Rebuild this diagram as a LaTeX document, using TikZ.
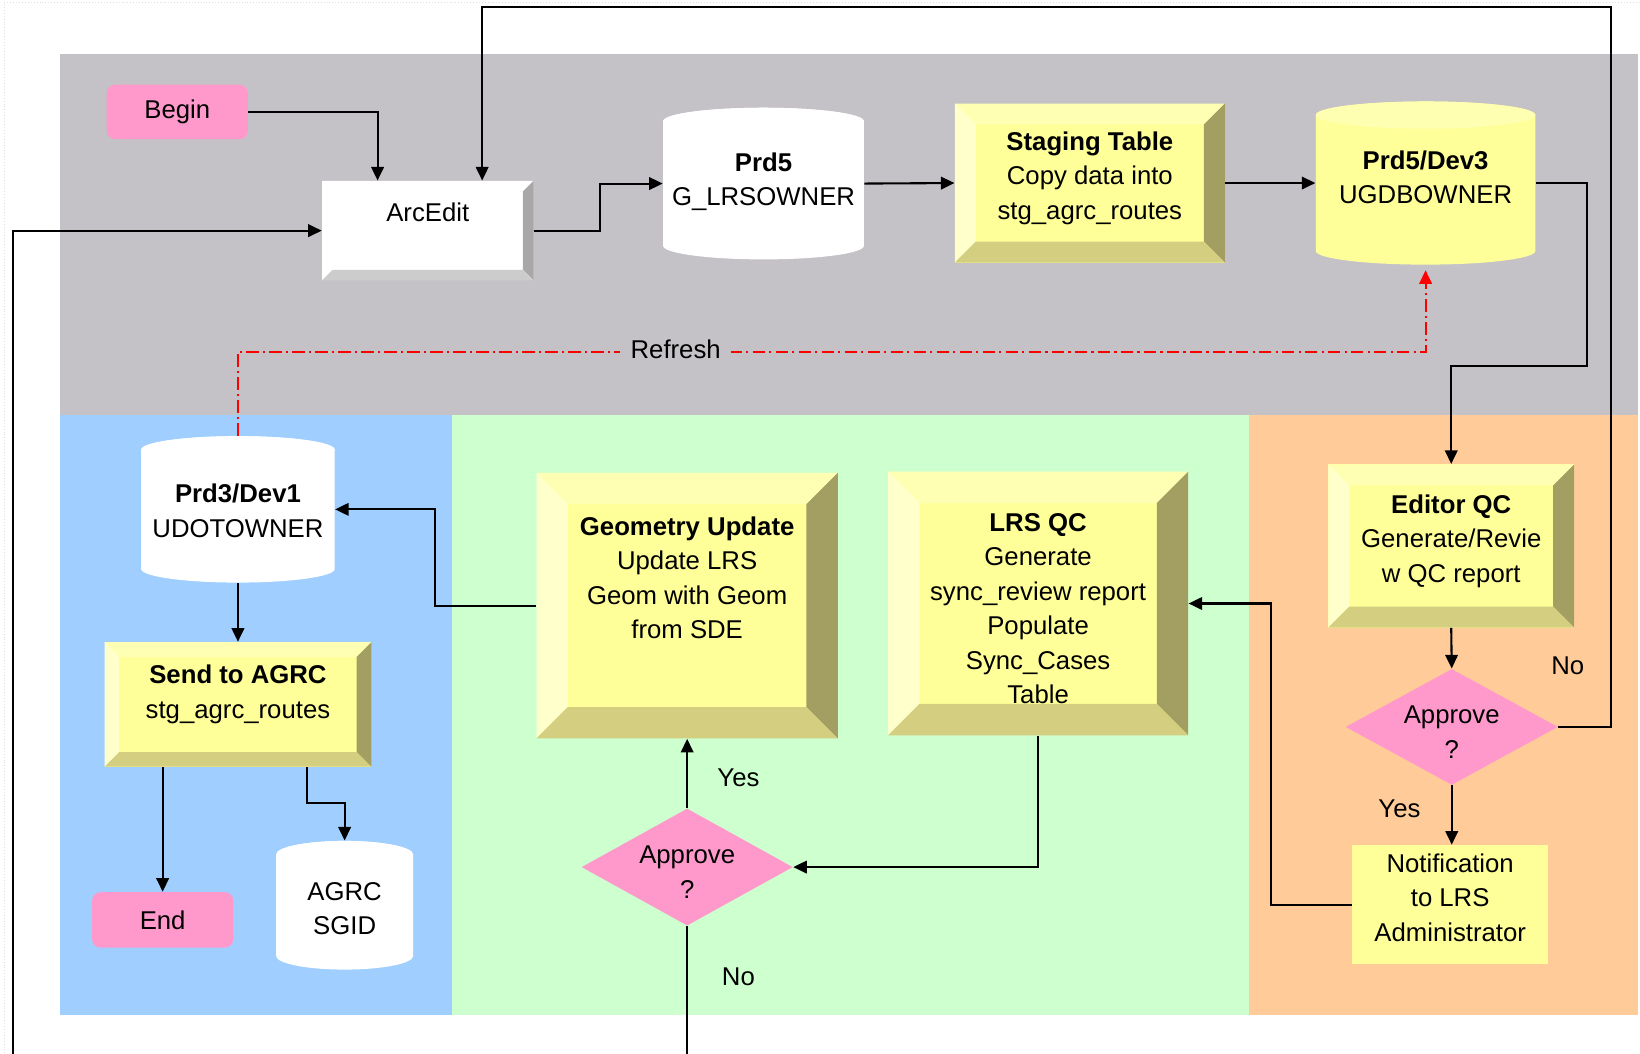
\documentclass[tikz,border=0pt]{standalone}
\usepackage{fontspec}
\setmainfont{Liberation Sans}
\usetikzlibrary{calc,arrows.meta,shapes.geometric}

\definecolor{bandgray}{RGB}{196,194,198}
\definecolor{laneblue}{RGB}{160,207,255}
\definecolor{lanegreen}{RGB}{206,255,206}
\definecolor{laneorange}{RGB}{255,204,153}
\definecolor{termpink}{RGB}{255,153,204}
\definecolor{yface}{RGB}{255,255,153}
\definecolor{ytop}{RGB}{255,255,180}
\definecolor{yleft}{RGB}{255,255,204}
\definecolor{yright}{RGB}{163,158,98}
\definecolor{ybottom}{RGB}{211,206,128}
\definecolor{dbtop}{RGB}{255,255,178}
\definecolor{gright}{RGB}{168,168,168}
\definecolor{gbottom}{RGB}{204,204,204}
\definecolor{refreshred}{RGB}{255,0,0}

\newcommand\bevelfaces[5]{%
	\coordinate (bnw) at (path picture bounding box.north west);
	\coordinate (bne) at (path picture bounding box.north east);
	\coordinate (bsw) at (path picture bounding box.south west);
	\coordinate (bse) at (path picture bounding box.south east);
	\fill[#2] (bnw) -- (bne) -- ($(bne)+(-#1,-#1)$) -- ($(bnw)+(#1,-#1)$) -- cycle;
	\fill[#3] (bnw) -- ($(bnw)+(#1,-#1)$) -- ($(bsw)+(#1,#1)$) -- (bsw) -- cycle;
	\fill[#4] (bne) -- (bse) -- ($(bse)+(-#1,#1)$) -- ($(bne)+(-#1,-#1)$) -- cycle;
	\fill[#5] (bsw) -- (bse) -- ($(bse)+(-#1,#1)$) -- ($(bsw)+(#1,#1)$) -- cycle;
}
\newcommand\dbfaces[2]{%
	\fill[#1] let \p1=(path picture bounding box.south west), \p2=(path picture bounding box.north east), \n1={(\x2-\x1)/2} in
		(\x1,\y2-6.5pt) -- (\x1,\y1+6.5pt) arc[start angle=180, end angle=360, x radius={\n1*1pt}, y radius=6.5pt]
		-- (\x2,\y2-6.5pt) arc[start angle=0, end angle=180, x radius={\n1*1pt}, y radius=6.5pt] -- cycle;
	\fill[#2] let \p1=(path picture bounding box.south west), \p2=(path picture bounding box.north east), \n1={(\x2-\x1)/2} in
		(\x1+\n1*1pt,\y2-6.5pt) ellipse [x radius={\n1*1pt}, y radius=6.5pt];
}

\tikzset{
	every node/.style={font=\fontsize{12.3}{16.5}\selectfont, inner sep=0pt, align=center},
	flow/.style={line width=1pt, -{Triangle[length=6.5pt,width=6pt]}},
	refreshline/.style={draw=refreshred, line width=1pt, dash pattern=on 6pt off 2pt on 1pt off 2pt, -{Triangle[length=6.5pt,width=6pt]}},
	terminal/.style={rectangle, rounded corners=4pt, fill=termpink},
	ybevel/.style={rectangle, fill=yface, path picture={\bevelfaces{#1}{ytop}{yleft}{yright}{ybottom}}},
	wbevel/.style={rectangle, fill=white, path picture={\bevelfaces{#1}{white}{white}{gright}{gbottom}}},
	db/.style 2 args={rectangle, path picture={\dbfaces{#1}{#2}}},
	decision/.style={diamond, aspect=1.8, fill=termpink, text height=30pt, text depth=0pt},
	textat/.style={text height=#1, text depth=3pt},
}

\begin{document}
\begin{tikzpicture}[x=0.5pt, y=-0.5pt]
		%%%%% START %%%%%
		\useasboundingbox (0,0) rectangle (1568,1007);
		\draw[black!12, densely dotted] (4,1007) -- (4,2) -- (1568,2);
		
		\fill[bandgray] (57,52) rectangle (1566,397);
		\fill[laneblue] (57,397) rectangle (432,970);
		\fill[lanegreen] (432,397) rectangle (1194,970);
		\fill[laneorange] (1194,397) rectangle (1566,970);
		
		\node[terminal, minimum width=67.5pt, minimum height=26pt] (begin) at (169.5,107) {Begin};
		\node[wbevel=5pt, text height=9pt, text depth=17.7pt, minimum width=101pt, minimum height=47.5pt] (arcedit) at (409,220.5) {ArcEdit};
		\node[db={white}{white}, textat=24.3pt, minimum width=96pt, minimum height=72.5pt] (prd5) at (730,175.5) {\textbf{Prd5}\\G\_LRSOWNER};
		\node[ybevel=10pt, textat=37.8pt, minimum width=129pt, minimum height=76pt] (staging) at (1042,175) {\textbf{Staging Table}\\Copy data into\\stg\_agrc\_routes};
		\node[db={yface}{dbtop}, textat=22.8pt, minimum width=105pt, minimum height=78pt] (dev3) at (1363,175) {\textbf{Prd5/Dev3}\\UGDBOWNER};
		
		\node[db={white}{white}, textat=29.8pt, minimum width=92.5pt, minimum height=70pt] (dev1) at (227.5,487) {\textbf{Prd3/Dev1}\\UDOTOWNER};
		\node[ybevel=7pt, textat=16.3pt, minimum width=127.5pt, minimum height=59.5pt] (sendagrc) at (227.5,673.5) {\textbf{Send to AGRC}\\stg\_agrc\_routes};
		\node[terminal, minimum width=67.5pt, minimum height=26.5pt] (endnode) at (155.5,879.5) {End};
		\node[db={white}{white}, textat=31.3pt, minimum width=65.5pt, minimum height=61.5pt] (sgid) at (329.5,865.5) {AGRC\\SGID};
		
		\node[ybevel=15pt, textat=34.8pt, minimum width=144pt, minimum height=127pt] (geomupd) at (657,579) {\textbf{Geometry Update}\\Update LRS\\Geom with Geom\\from SDE};
		\node[ybevel=15pt, textat=98.8pt, minimum width=143.5pt, minimum height=126pt] (lrsqc) at (992.5,577) {\textbf{LRS QC}\\Generate\\sync\_review report\\Populate\\Sync\_Cases\\Table};
		\node[decision, minimum width=101pt, minimum height=56pt] (approve1) at (657,829) {Approve\\?};
		
		\node[ybevel=10pt, textat=37.8pt, minimum width=117.5pt, minimum height=78pt] (editorqc) at (1387.5,522) {\textbf{Editor QC}\\Generate/Revie\\w QC report};
		\node[decision, minimum width=101.5pt, minimum height=54.5pt] (approve2) at (1388,695) {Approve\\?};
		\node[rectangle, fill=yface, textat=37.8pt, minimum width=93.5pt, minimum height=57pt] (notif) at (1386.5,865) {Notification\\to LRS\\Administrator};
		
		\coordinate (loopne) at (1540,7);
		\coordinate (loopsw) at (12,1040);
		\coordinate (qcbend) at (1517,350);
		
		\draw[flow] (begin.east) -| ([xshift=-24pt]arcedit.north);
		\draw[flow] (approve2.east) -| (loopne) -| ([xshift=26pt]arcedit.north);
		\draw[flow] (approve1.south) |- (loopsw) |- (arcedit.west);
		\draw[flow] (arcedit.east) -- ++(63,0) |- (prd5.west);
		\draw[flow] (prd5.east) -- (staging.west);
		\draw[flow] (staging.east) -- (dev3.west);
		\draw[flow] (dev3.east) -| (qcbend) -| (editorqc.north);
		
		\draw[refreshline] (dev1.north) -- ++(0,-80) -| ([yshift=-2.5pt]dev3.south);
		\node[fill=bandgray, inner xsep=5pt, inner ysep=2pt] (refreshlbl) at (646,334) {Refresh};
		
		\draw[flow] (geomupd.west) -- ++(-97,0) |- (dev1.east);
		\draw[flow] (dev1.south) -- (sendagrc.north);
		\draw[flow] (sendagrc.south -| endnode.north) -- (endnode.north);
		\draw[flow] ([xshift=33pt]sendagrc.south) -- ++(0,34) -| (sgid.north);
		\draw[flow] (approve1.north) -- (geomupd.south);
		\draw[flow] (lrsqc.south) |- (approve1.east);
		\draw[flow] (editorqc.south) -- (approve2.north);
		\draw[flow] (approve2.south) -- (approve2.south |- notif.north);
		\draw[flow] (notif.west) -- ++(-77,0) |- (lrsqc.east);
		
		\node (yesgeom) at (706,744) {Yes};
		\node (nogeom) at (706,934) {No};
		\node (noqc) at (1499,637) {No};
		\node (yesqc) at (1338,773) {Yes};
		
		%%%%% END %%%%%
\end{tikzpicture}
\end{document}
